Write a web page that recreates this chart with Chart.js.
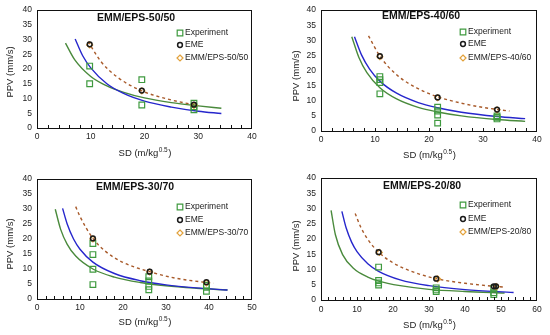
<!DOCTYPE html>
<html>
<head>
<meta charset="utf-8">
<script src="https://cdn.jsdelivr.net/npm/chart.js@4.4.1/dist/chart.umd.min.js"></script>
<style>
  body { margin: 0; background: #fff; }
  .panel { position: absolute; }
</style>
</head>
<body>
<div class="panel" style="left:0;top:0"><canvas id="c1" width="275" height="168"></canvas></div>
<div class="panel" style="left:275px;top:0"><canvas id="c2" width="275" height="168"></canvas></div>
<div class="panel" style="left:0;top:168px"><canvas id="c3" width="275" height="167"></canvas></div>
<div class="panel" style="left:275px;top:168px"><canvas id="c4" width="275" height="167"></canvas></div>
<script>
const titles = ['EMM/EPS-50/50', 'EMM/EPS-40/60', 'EMM/EPS-30/70', 'EMM/EPS-20/80'];
const xMaxes = [40, 40, 50, 60];
const yTicks = [0, 5, 10, 15, 20, 25, 30, 35, 40];

// panel 1 (50/50)
const sdExp1 = [9.8, 9.8, 19.5, 19.5, 29.2, 29.2, 29.2];
const ppvExp1 = [21, 15, 16.4, 7.8, 8.4, 7.2, 6.2];
const sdEme1 = [9.8, 19.5, 29.2];
const ppvEme1 = [28.4, 12.7, 7.9];
const sdMix1 = [9.8, 19.5, 29.2];
const ppvMix1 = [28.2, 12.6, 7.7];
const sdFitExp1 = [5.3, 7, 10, 13, 16, 20, 25, 30, 34.3];
const ppvFitExp1 = [28.8, 23.2, 17.5, 14.3, 12.2, 10.2, 8.6, 7.5, 6.7];
const sdFitMix1 = [7.1, 8.5, 10, 13, 16, 20, 25, 30, 34.3];
const ppvFitMix1 = [30.2, 24.5, 20.4, 15.0, 11.8, 9.1, 7.1, 5.7, 4.9];
const sdFitEme1 = [9.5, 12, 15, 19.5, 25, 30];
const ppvFitEme1 = [29.3, 22.3, 17.2, 12.6, 9.5, 7.6];

// panel 2 (40/60)
const sdExp2 = [10.9, 10.9, 10.9, 10.9, 21.6, 21.6, 21.6, 21.6, 32.6, 32.6, 32.6];
const ppvExp2 = [18, 17, 16, 12.3, 7.9, 6.6, 5.3, 2.6, 5.0, 4.5, 4.0];
const sdEme2 = [10.9, 21.6, 32.6];
const ppvEme2 = [24.8, 11.1, 7.1];
const sdMix2 = [10.9, 21.6, 32.6];
const ppvMix2 = [24.6, 11.0, 7.0];
const sdFitExp2 = [5.7, 7, 8.5, 10.9, 14, 18, 21.6, 26, 32.6, 37.8];
const ppvFitExp2 = [31.2, 24.4, 19.3, 14.3, 10.6, 7.8, 6.3, 5.0, 3.8, 3.2];
const sdFitMix2 = [6.2, 7.5, 9, 10.9, 14, 18, 21.6, 26, 32.6, 37.8];
const ppvFitMix2 = [31.2, 25.2, 20.5, 16.5, 12.5, 9.4, 7.7, 6.2, 4.8, 4.1];
const sdFitEme2 = [8.8, 10.9, 14, 18, 21.6, 26, 30, 34.9];
const ppvFitEme2 = [31.5, 24.8, 18.6, 14.0, 11.3, 9.2, 7.8, 6.6];

// panel 3 (30/70)
const sdExp3 = [13, 13, 13, 13, 26, 26, 26, 26, 39.4, 39.4, 39.4];
const ppvExp3 = [18.5, 14.8, 9.9, 4.8, 7.4, 6.0, 4.2, 3.1, 4.6, 3.9, 2.6];
const sdEme3 = [13, 26.2, 39.4];
const ppvEme3 = [20.2, 9.1, 5.6];
const sdMix3 = [13, 26.2, 39.4];
const ppvMix3 = [20.0, 9.0, 5.4];
const sdFitExp3 = [4.25, 5.5, 7, 9, 13, 18, 24, 30, 37, 44.3];
const ppvFitExp3 = [29.9, 23.2, 18.3, 14.3, 10.0, 7.3, 5.5, 4.4, 3.6, 3.0];
const sdFitMix3 = [5.95, 7, 8.5, 10, 13, 18, 24, 30, 37, 44.3];
const ppvFitMix3 = [30.2, 25.1, 20.0, 16.6, 12.3, 8.5, 6.1, 4.7, 3.7, 3.0];
const sdFitEme3 = [9, 10, 13, 16, 20, 26.2, 32, 39.4, 41];
const ppvFitEme3 = [30.8, 27.5, 20.2, 15.8, 12.2, 9.1, 7.0, 5.5, 5.25];

// panel 4 (20/80)
const sdExp4 = [16, 16, 16, 16, 32, 32, 32, 48, 48, 48];
const ppvExp4 = [10.8, 6.4, 5.6, 4.9, 4.0, 3.3, 2.8, 3.9, 2.4, 1.8];
const sdEme4 = [16, 32, 48, 48.6];
const ppvEme4 = [15.7, 7.0, 4.5, 4.5];
const sdMix4 = [16.2, 32.4, 48.7];
const ppvMix4 = [15.6, 6.9, 4.4];
const sdFitExp4 = [2.8, 4, 6, 9, 13, 16, 22, 30, 40, 51];
const ppvFitExp4 = [29.4, 21.4, 14.9, 10.4, 7.5, 6.2, 4.7, 3.5, 2.8, 2.3];
const sdFitMix4 = [5.8, 7, 8.5, 10, 13, 16, 22, 30, 40, 53.5];
const ppvFitMix4 = [29.1, 23.6, 19.0, 15.9, 11.9, 9.4, 6.6, 4.7, 3.4, 2.45];
const sdFitEme4 = [9.5, 11, 13, 16, 20, 25, 32, 40, 48, 50.5];
const ppvFitEme4 = [28.4, 24.0, 19.9, 15.7, 12.2, 9.45, 7.0, 5.5, 4.5, 4.25];

const FONT = 'Liberation Sans, Arial, sans-serif';
const GREEN_PT = '#3f9a3f';
const GREEN_LN = '#4a8a3c';
const BLUE = '#2626cc';
const BROWN = '#a85a2a';
const ORANGE = '#e2a13a';

function pts(xs, ys) {
  return xs.map((x, i) => ({ x: x, y: ys[i] }));
}

function drawMarker(ctx, kind, x, y) {
  ctx.save();
  ctx.beginPath();
  if (kind === 'square') {
    ctx.strokeStyle = GREEN_PT; ctx.lineWidth = 1.2;
    ctx.rect(x - 2.8, y - 2.8, 5.6, 5.6);
  } else if (kind === 'circle') {
    ctx.strokeStyle = '#1a1a1a'; ctx.lineWidth = 1.5;
    ctx.arc(x, y, 2.4, 0, Math.PI * 2);
  } else {
    ctx.strokeStyle = ORANGE; ctx.lineWidth = 1.2;
    ctx.moveTo(x, y - 3); ctx.lineTo(x + 3, y); ctx.lineTo(x, y + 3); ctx.lineTo(x - 3, y); ctx.closePath();
  }
  ctx.stroke();
  ctx.restore();
}

function makePanel(cfg) {
  const canvas = document.getElementById(cfg.id);
  const W = canvas.width, H = canvas.height;
  const [L, R, T, B] = cfg.box;

  const deco = {
    id: 'deco',
    afterDraw(chart) {
      const ctx = chart.ctx;
      const a = chart.chartArea;
      const xs = chart.scales.x;
      ctx.save();
      // plot box
      ctx.strokeStyle = '#111';
      ctx.lineWidth = 1;
      ctx.strokeRect(Math.round(a.left) + 0.5, Math.round(a.top) + 0.5,
        Math.round(a.right - a.left) - 1, Math.round(a.bottom - a.top));
      // minor ticks on x axis, pointing inward
      ctx.beginPath();
      for (let v = 2; v < cfg.xMax; v += 2) {
        const px = Math.round(xs.getPixelForValue(v)) + 0.5;
        ctx.moveTo(px, a.bottom);
        ctx.lineTo(px, a.bottom - 3);
      }
      ctx.stroke();

      // panel title
      ctx.fillStyle = '#111';
      ctx.font = 'bold 10.5px ' + FONT;
      ctx.textAlign = 'center';
      ctx.textBaseline = 'middle';
      ctx.fillText(cfg.title, cfg.titlePos[0], cfg.titlePos[1]);

      // y axis title
      ctx.font = '9.5px ' + FONT;
      ctx.fillStyle = '#222';
      ctx.save();
      ctx.translate(cfg.yTitlePos[0], cfg.yTitlePos[1]);
      ctx.rotate(-Math.PI / 2);
      ctx.fillText('PPV (mm/s)', 0, 0);
      ctx.restore();

      // x axis title with superscript
      const main = 'SD (m/kg', sup = '0.5', end = ')';
      ctx.textBaseline = 'alphabetic';
      ctx.font = '9.5px ' + FONT;
      const w1 = ctx.measureText(main).width;
      const w3 = ctx.measureText(end).width;
      ctx.font = '6.5px ' + FONT;
      const w2 = ctx.measureText(sup).width;
      const x0 = (a.left + a.right) / 2 - (w1 + w2 + w3) / 2;
      const yT = cfg.xTitleY + 3.5;
      ctx.textAlign = 'left';
      ctx.font = '9.5px ' + FONT;
      ctx.fillText(main, x0, yT);
      ctx.font = '6.5px ' + FONT;
      ctx.fillText(sup, x0 + w1 + 0.5, yT - 4);
      ctx.font = '9.5px ' + FONT;
      ctx.fillText(end, x0 + w1 + w2 + 1, yT);

      // legend
      const lg = cfg.legend;
      const names = ['Experiment', 'EME', cfg.title];
      const kinds = ['square', 'circle', 'diamond'];
      ctx.font = '8.5px ' + FONT;
      ctx.textAlign = 'left';
      ctx.textBaseline = 'middle';
      names.forEach((n, i) => {
        drawMarker(ctx, kinds[i], lg.mx, lg.ys[i]);
        ctx.fillStyle = '#222';
        ctx.fillText(n, lg.tx, lg.ys[i]);
      });
      ctx.restore();
    }
  };

  new Chart(canvas, {
    type: 'scatter',
    data: {
      datasets: [
        {
          label: 'EME',
          data: pts(cfg.sdEme, cfg.ppvEme),
          pointStyle: 'circle', pointRadius: 2.4, pointBorderWidth: 1.5,
          borderColor: '#1a1a1a', backgroundColor: 'rgba(0,0,0,0)'
        },
        {
          label: cfg.title,
          data: pts(cfg.sdMix, cfg.ppvMix),
          pointStyle: 'rectRot', pointRadius: 3, pointBorderWidth: 1.2,
          borderColor: ORANGE, backgroundColor: 'rgba(0,0,0,0)'
        },
        {
          label: 'Experiment',
          data: pts(cfg.sdExp, cfg.ppvExp),
          pointStyle: 'rect', pointRadius: 4, pointBorderWidth: 1.2,
          borderColor: GREEN_PT, backgroundColor: 'rgba(0,0,0,0)'
        },
        {
          label: 'EME fit',
          data: pts(cfg.sdFitEme, cfg.ppvFitEme),
          showLine: true, pointRadius: 0, borderWidth: 1.4, borderDash: [3, 3],
          borderColor: BROWN, cubicInterpolationMode: 'monotone'
        },
        {
          label: 'Model fit',
          data: pts(cfg.sdFitMix, cfg.ppvFitMix),
          showLine: true, pointRadius: 0, borderWidth: 1.4,
          borderColor: BLUE, cubicInterpolationMode: 'monotone'
        },
        {
          label: 'Experiment fit',
          data: pts(cfg.sdFitExp, cfg.ppvFitExp),
          showLine: true, pointRadius: 0, borderWidth: 1.4,
          borderColor: GREEN_LN, cubicInterpolationMode: 'monotone'
        }
      ]
    },
    options: {
      responsive: false,
      animation: false,
      events: [],
      layout: { padding: { left: 0, top: T, right: W - R, bottom: 0 } },
      plugins: { legend: { display: false }, tooltip: { enabled: false } },
      scales: {
        x: {
          type: 'linear', min: 0, max: cfg.xMax,
          afterFit(s) { s.height = H - B; },
          grid: { display: false, drawTicks: false },
          border: { display: false },
          ticks: {
            stepSize: 10, padding: cfg.xTickPad, maxRotation: 0,
            color: '#222', font: { family: FONT, size: 8.5 }
          }
        },
        y: {
          type: 'linear', min: 0, max: 40,
          afterFit(s) { s.width = L; },
          afterBuildTicks(s) { s.ticks = yTicks.map(v => ({ value: v })); },
          grid: { display: false, drawTicks: false },
          border: { display: false },
          ticks: {
            padding: 5, color: '#222', font: { family: FONT, size: 8.5 }
          }
        }
      }
    },
    plugins: [deco]
  });
}

makePanel({
  id: 'c1', title: titles[0], xMax: xMaxes[0], box: [37, 252, 9, 128],
  titlePos: [136, 18], yTitlePos: [10, 72], xTitleY: 152, xTickPad: 4,
  legend: { mx: 180, tx: 185, ys: [33, 45, 58] },
  sdExp: sdExp1, ppvExp: ppvExp1, sdEme: sdEme1, ppvEme: ppvEme1, sdMix: sdMix1, ppvMix: ppvMix1,
  sdFitExp: sdFitExp1, ppvFitExp: ppvFitExp1, sdFitMix: sdFitMix1, ppvFitMix: ppvFitMix1,
  sdFitEme: sdFitEme1, ppvFitEme: ppvFitEme1
});
makePanel({
  id: 'c2', title: titles[1], xMax: xMaxes[1], box: [46, 262, 6, 131],
  titlePos: [146, 16], yTitlePos: [21, 76], xTitleY: 154, xTickPad: 4,
  legend: { mx: 188, tx: 193, ys: [32, 44, 58] },
  sdExp: sdExp2, ppvExp: ppvExp2, sdEme: sdEme2, ppvEme: ppvEme2, sdMix: sdMix2, ppvMix: ppvMix2,
  sdFitExp: sdFitExp2, ppvFitExp: ppvFitExp2, sdFitMix: sdFitMix2, ppvFitMix: ppvFitMix2,
  sdFitEme: sdFitEme2, ppvFitEme: ppvFitEme2
});
makePanel({
  id: 'c3', title: titles[2], xMax: xMaxes[2], box: [37, 252, 11, 131],
  titlePos: [135, 19], yTitlePos: [10, 76], xTitleY: 153, xTickPad: 4,
  legend: { mx: 180, tx: 185, ys: [39, 52, 65] },
  sdExp: sdExp3, ppvExp: ppvExp3, sdEme: sdEme3, ppvEme: ppvEme3, sdMix: sdMix3, ppvMix: ppvMix3,
  sdFitExp: sdFitExp3, ppvFitExp: ppvFitExp3, sdFitMix: sdFitMix3, ppvFitMix: ppvFitMix3,
  sdFitEme: sdFitEme3, ppvFitEme: ppvFitEme3
});
makePanel({
  id: 'c4', title: titles[3], xMax: xMaxes[3], box: [46, 262, 9, 132],
  titlePos: [147, 18], yTitlePos: [21, 78], xTitleY: 156, xTickPad: 5,
  legend: { mx: 188, tx: 193, ys: [37, 51, 64] },
  sdExp: sdExp4, ppvExp: ppvExp4, sdEme: sdEme4, ppvEme: ppvEme4, sdMix: sdMix4, ppvMix: ppvMix4,
  sdFitExp: sdFitExp4, ppvFitExp: ppvFitExp4, sdFitMix: sdFitMix4, ppvFitMix: ppvFitMix4,
  sdFitEme: sdFitEme4, ppvFitEme: ppvFitEme4
});
</script>
</body>
</html>
